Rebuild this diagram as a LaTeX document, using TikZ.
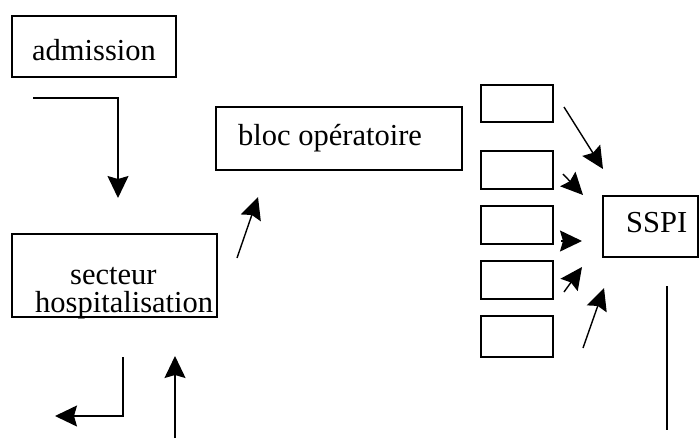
\documentclass[tikz,border=0pt]{standalone}
\usepackage{fontspec}
\setmainfont{Liberation Serif}
\usetikzlibrary{arrows.meta}
\begin{document}
\begin{tikzpicture}[x=1pt,y=-1pt,
  box/.style={draw,line width=1.5pt,inner sep=0pt,outer sep=0pt,anchor=north west},
  lbl/.style={anchor=base west,inner sep=0pt,font=\fontsize{30.5}{27}\selectfont},
  conn/.style={line width=1.4pt,-{Stealth[length=22pt,width=21pt,inset=3pt]}},
  plain/.style={line width=1.4pt}]
\useasboundingbox (0,0) rectangle (699,440);
% boxes
\node[box,minimum width=164pt,minimum height=61pt] (adm) at (12,16) {};
\node[box,minimum width=205pt,minimum height=83pt] (sec) at (12,234) {};
\node[box,minimum width=246pt,minimum height=63pt] (bloc) at (216,107) {};
\node[box,minimum width=72pt,minimum height=37pt] (r1) at (481,85) {};
\node[box,minimum width=72pt,minimum height=38pt] (r2) at (481,151) {};
\node[box,minimum width=72pt,minimum height=38pt] (r3) at (481,206) {};
\node[box,minimum width=72pt,minimum height=38pt] (r4) at (481,261) {};
\node[box,minimum width=72pt,minimum height=41pt] (r5) at (481,316) {};
\node[box,minimum width=95pt,minimum height=61pt] (sspi) at (603,196) {};
% labels
\node[lbl] (tadm) at (32,60) {admission};
\node[lbl] (tbloc) at (238,145) {bloc opératoire};
\node[lbl] (tsec1) at (70,284) {secteur};
\node[lbl] (tsec2) at (35,312) {hospitalisation};
\node[lbl] (tsspi) at (626,232) {SSPI};
% connector points
\coordinate (p1a) at (33,98);
\coordinate (p1b) at (118,98);
\coordinate (p1c) at (118,198);
\coordinate (p2a) at (123,357);
\coordinate (p2b) at (123,416);
\coordinate (p2c) at (55,416);
\coordinate (p3a) at (175,438);
\coordinate (p3b) at (175,356);
\coordinate (p4a) at (237,258);
\coordinate (p4b) at (258,197);
\coordinate (q1a) at (564,107);
\coordinate (q1b) at (603,169);
\coordinate (q2a) at (563,174);
\coordinate (q2b) at (583,195);
\coordinate (q3a) at (561,241);
\coordinate (q3b) at (582,241);
\coordinate (q4a) at (564,292);
\coordinate (q4b) at (582,267);
\coordinate (q5a) at (583,348);
\coordinate (q5b) at (604,288);
\coordinate (v1) at (667,286);
\coordinate (v2) at (667,430);
% connectors
\draw[conn] (p1a) -- (p1b) -- (p1c);
\draw[conn] (p2a) -- (p2b) -- (p2c);
\draw[conn] (p3a) -- (p3b);
\draw[conn] (p4a) -- (p4b);
\draw[conn] (q1a) -- (q1b);
\draw[conn] (q2a) -- (q2b);
\draw[conn] (q3a) -- (q3b);
\draw[conn] (q4a) -- (q4b);
\draw[conn] (q5a) -- (q5b);
\draw[plain] (v1) -- (v2);
\end{tikzpicture}
\end{document}
